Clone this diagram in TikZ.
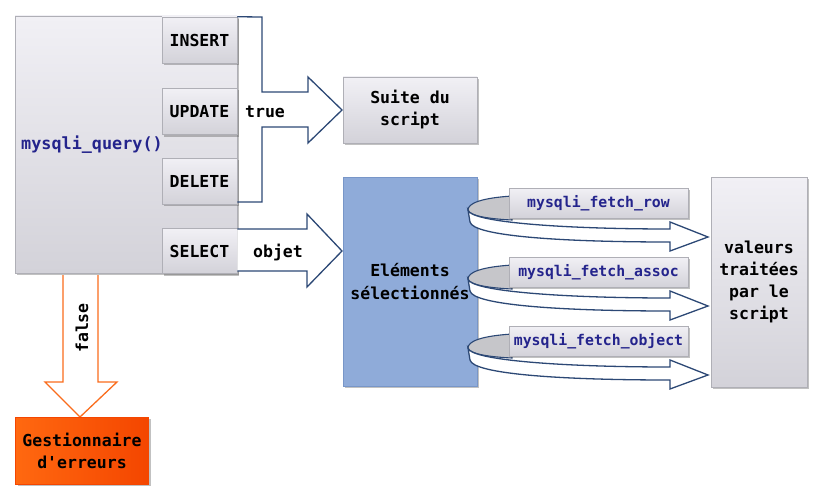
\documentclass[tikz,border=0pt]{standalone}
\usepackage{fontspec}
\setmainfont{DejaVu Sans Mono}[Ligatures=TeXOff]
\usetikzlibrary{shadows}
\definecolor{navy}{RGB}{44,72,117}
\definecolor{orng}{RGB}{250,108,28}
\definecolor{txtblue}{RGB}{36,36,140}
\definecolor{gtop}{RGB}{241,240,245}
\definecolor{gbot}{RGB}{211,210,217}
\definecolor{gedge}{RGB}{175,175,182}
\definecolor{selblue}{RGB}{143,171,217}
\definecolor{seledge}{RGB}{120,150,200}
\definecolor{crgrey}{RGB}{198,198,202}
\definecolor{errA}{RGB}{255,104,16}
\definecolor{errB}{RGB}{244,70,0}
\begin{document}
\begin{tikzpicture}[x=1pt,y=-1pt,
  shad/.style={drop shadow={shadow xshift=2pt,shadow yshift=-2pt,opacity=0.35,fill=black!70}},
  box/.style={draw=gedge, line width=0.5pt, top color=gtop, bottom color=gbot, shad,
    inner sep=0pt, align=center, font=\fontsize{16.5}{22}\selectfont\bfseries},
  flabel/.style={box, minimum width=179pt, minimum height=30pt, text=txtblue,
    font=\fontsize{14.8}{18}\selectfont\bfseries},
  lbl/.style={font=\fontsize{16.5}{22}\selectfont\bfseries, inner sep=0pt},
  navyarrow/.style={draw=navy, line width=1.3pt, line join=miter},
]
\useasboundingbox (0,0) rectangle (820,503);

% main box and buttons
\node[box, minimum width=222pt, minimum height=257pt] (main) at (126,144.5) {};
\node[lbl, anchor=west, text=txtblue, font=\fontsize{16.8}{22}\selectfont\bfseries] (mq) at (21,145) {mysqli\_query()};
\node[box, minimum width=75pt, minimum height=46pt] (insert) at (199.5,40) {INSERT};
\node[box, minimum width=75pt, minimum height=46pt] (update) at (199.5,111.5) {UPDATE};
\node[box, minimum width=75pt, minimum height=46pt] (delete) at (199.5,181) {DELETE};
\node[box, minimum width=75pt, minimum height=45pt] (select) at (199.5,251) {SELECT};

% true arrow
\draw[navyarrow] (insert.north east) -- (262,17) -- (262,92) -- (308,92) -- (308,77)
  -- (342,110) -- (308,143) -- (308,127) -- (262,127) -- (262,202) -- (delete.east |- 0,202);
\node[lbl] (true) at (265,112) {true};

% objet arrow
\draw[navyarrow, fill=white] (select.east |- 0,229) -- (307,229) -- (307,214) -- (342,251)
  -- (307,287) -- (307,271) -- (select.east |- 0,271);
\node[lbl] (objet) at (278,252) {objet};

% right side boxes
\node[box, minimum width=134pt, minimum height=66pt] (suite) at (410,110) {Suite du\\script};
\node[draw=seledge, line width=0.5pt, fill=selblue, shad, minimum width=134pt, minimum height=209pt,
  inner sep=0pt, align=center, font=\fontsize{16.5}{23}\selectfont\bfseries] (elem) at (410,281.5)
  {Eléments\\sélectionnés};
\node[box, minimum width=96pt, minimum height=210pt] (val) at (759,282)
  {valeurs\\traitées\\par le\\script};

% curled arrows
\foreach \dy/\nm/\id in {0/row/frow, 69/assoc/fassoc, 138/object/fobject}{
  \begin{scope}[shift={(0,\dy)}]
    \draw[navyarrow, line width=1.1pt, fill=crgrey] (512,196) .. controls (482,198) and (468,203) .. (468,210)
      .. controls (469,216) and (490,219) .. (512,220) -- cycle;
    \draw[navyarrow, fill=white] (468,210) .. controls (470,222) and (560,229) .. (670,229)
      -- (670,222) -- (708,237) -- (670,251) -- (670,242)
      .. controls (560,242) and (473,236) .. (470,222) -- cycle;
  \end{scope}
  \node[flabel] (\id) at (598.5,203+\dy) {mysqli\_fetch\_\nm};
}

% false arrow
\draw[draw=orng, line width=1.3pt, fill=white, line join=miter] (63,275) -- (63,382) -- (45,382)
  -- (80,417) -- (117,382) -- (98,382) -- (98,275);
\node[lbl, rotate=90] (false) at (82,328) {false};
\node[draw=errB, line width=0.5pt, left color=errA, right color=errB, shad, minimum width=133pt,
  minimum height=67pt, inner sep=0pt, align=center, font=\fontsize{16.5}{22}\selectfont\bfseries]
  (err) at (82,450.5) {Gestionnaire\\d'erreurs};
\end{tikzpicture}
\end{document}
